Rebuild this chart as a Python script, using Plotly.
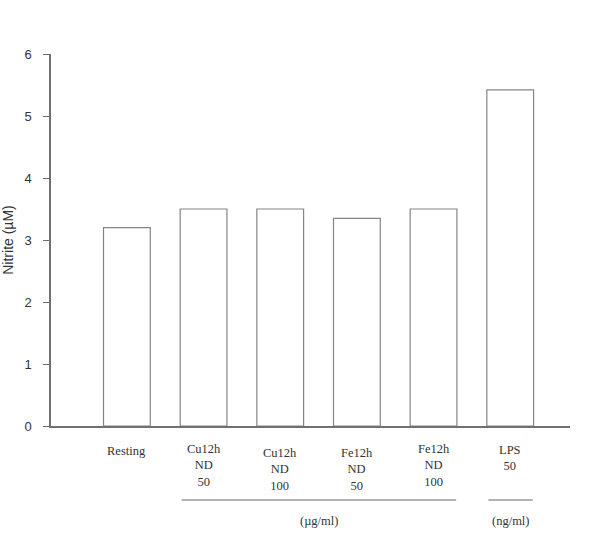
import plotly.graph_objects as go

categories = ["Resting", "Cu12h<br>ND<br>50", "Cu12h<br>ND<br>100", "Fe12h<br>ND<br>50", "Fe12h<br>ND<br>100", "LPS<br>50"]
nitrite = [3.2, 3.5, 3.5, 3.35, 3.5, 5.42]
label_top_px = [442, 440, 444, 444, 440, 441]
groups = [("(µg/ml)", 1, 4), ("(ng/ml)", 5, 5)]
y_ticks = [0, 1, 2, 3, 4, 5, 6]

W, H = 610, 539
L, R, T, B = 51, 40, 54, 113
plot_h = H - T - B
bar_w = 0.61

def py(pix):
    return (H - B - pix) / plot_h

xs = list(range(len(categories)))

fig = go.Figure(go.Bar(
    x=xs, y=nitrite, width=bar_w,
    marker=dict(color="white", line=dict(color="#858585", width=1.2)),
))

serif = dict(family="Liberation Serif, Times New Roman, serif", size=12.5, color="#333")
annotations = []
for i, (lab, top) in enumerate(zip(categories, label_top_px)):
    annotations.append(dict(x=i, xref="x", y=py(top), yref="paper", yanchor="top",
                            text=lab, showarrow=False, align="center", font=serif))
shapes = []
for name, a, b in groups:
    x0 = a - bar_w / 2 + 0.02
    x1 = b + bar_w / 2 - 0.01
    shapes.append(dict(type="line", xref="x", yref="paper", x0=x0, x1=x1, y0=py(500), y1=py(500),
                       line=dict(color="#666", width=1)))
    annotations.append(dict(x=(x0 + x1) / 2, xref="x", y=py(521), yref="paper", yanchor="middle",
                            text=name, showarrow=False, font=serif))

fig.update_layout(
    width=W, height=H, margin=dict(l=L, r=R, t=T, b=B, autoexpand=False),
    plot_bgcolor="white", paper_bgcolor="white", showlegend=False,
    annotations=annotations, shapes=shapes,
    xaxis=dict(range=[-0.99, 5.78], showticklabels=False, ticks="", showgrid=False, zeroline=False,
               showline=True, linecolor="#707070", linewidth=1.5, automargin=False),
    yaxis=dict(range=[0, 6], tickvals=y_ticks, ticks="outside", ticklen=6, tickcolor="#707070",
               ticklabelstandoff=9, automargin=False,
               showgrid=False, zeroline=False, showline=True, linecolor="#707070", linewidth=1.5,
               tickfont=dict(family="Liberation Sans, Arial, sans-serif", size=13, color="#333"),
               title=dict(text="Nitrite (µM)", standoff=10,
                          font=dict(family="Liberation Sans, Arial, sans-serif", size=14, color="#333"))),
)

fig.write_html("out.html")
